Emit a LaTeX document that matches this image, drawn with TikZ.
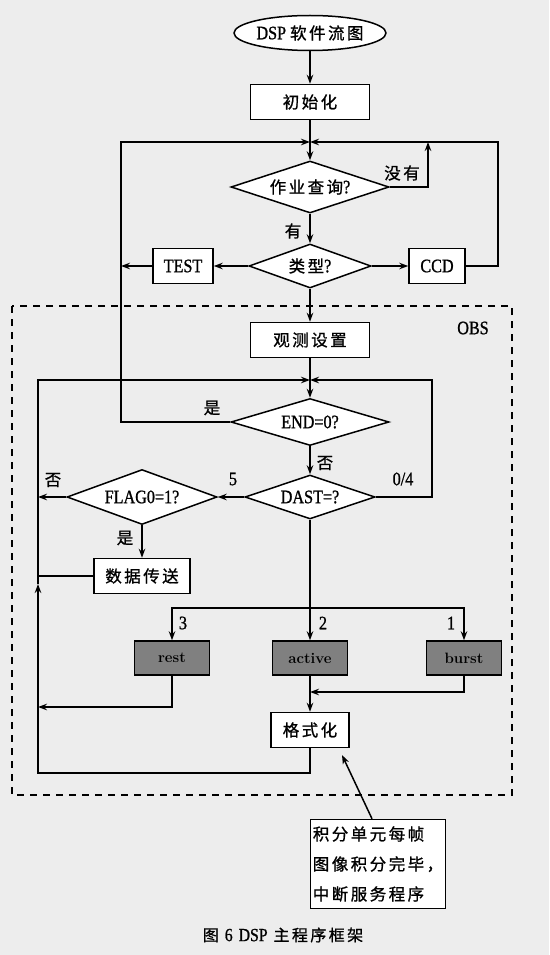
\documentclass[tikz,border=0pt]{standalone}
\usepackage{fontspec}
\newfontfamily\zh[LetterSpace=15, FakeBold=1]{Noto Sans CJK SC}
\newfontfamily\tm[FakeStretch=0.85, FakeBold=1]{Liberation Serif}
\usetikzlibrary{arrows.meta,shapes.geometric,positioning}
\newcommand{\cn}[2][16.5]{{\fontsize{#1}{#1}\selectfont\zh #2}}

\tikzset{
    blk/.style={draw, fill=white, inner sep=0pt, font=\fontsize{19}{24}\selectfont\tm},
    proc/.style={blk, rectangle, minimum width=#1, minimum height=35},
    proc/.default=119,
    cond/.style={blk, diamond, aspect=3},
    gbox/.style={blk, fill=black!50, minimum width=75, minimum height=34, font=\fontsize{15}{18}\selectfont\bfseries},
    lbl/.style={font=\fontsize{19}{24}\selectfont\tm},
}

\begin{document}
\begin{tikzpicture}[x=1pt, y=-1pt, line width=1.5pt, >={Stealth[length=9pt,width=6.5pt]}]
    \useasboundingbox[fill=black!7] (0,0) rectangle (549,955);

    % OBS frame
    \draw[line width=1.4pt, dash pattern=on 7pt off 6pt] (12,306) rectangle (512,795);
    \node[lbl] (obs) at (473,328) {OBS};

    % Upper part
    \node[blk, ellipse, minimum width=152, minimum height=35] (start) at (310,33) {DSP\hspace{4pt}\cn{软件流图}};
    \node[proc] (init) at (310,102) {\cn{初始化}};
    \node[cond, minimum width=158, minimum height=52] (query) at (310,187) {\cn{作业查询}?};
    \node[cond, minimum width=122, minimum height=44] (kind) at (310,266) {\cn{类型}?};
    \node[proc=60] (test) at (183,266) {TEST};
    \node[proc=56] (ccd) at (437,266) {CCD};
    \coordinate (m1) at (310,142);
    \coordinate (lt) at (121,142);
    \coordinate (rt) at (498,142);
    \coordinate (nq) at (428,142);

    \draw[->] (start) -- (init);
    \draw[->] (init) -- (query);
    \draw[->] (query.east) -| (nq);
    \node[lbl] (none) at (402,173) {\cn{没有}};
    \draw[->] (query) -- (kind);
    \node[lbl] (have) at (293,231) {\cn{有}};
    \draw[->] (kind) -- (test);
    \draw[->] (kind) -- (ccd);
    \draw[->] (test.west) -- (test.west -| lt);
    \draw[->] (ccd.east) -| (rt) -- (m1);

    % OBS part
    \node[proc] (setup) at (310,340) {\cn{观测设置}};
    \node[cond, minimum width=158, minimum height=47] (endq) at (310,422) {END=0?};
    \node[cond, minimum width=130, minimum height=44] (dast) at (310,497) {DAST=?};
    \node[cond, minimum width=150, minimum height=55] (flag) at (142,497) {FLAG0=1?};
    \node[proc=96] (send) at (142,576) {\cn{数据传送}};
    \foreach \n/\x in {rest/172, active/310, burst/464} {
        \node[gbox] (\n) at (\x,658) {\n};
    }
    \node[proc=78] (format) at (310,730) {\cn{格式化}};
    \coordinate (m2) at (310,380);
    \coordinate (lb) at (38,380);
    \coordinate (rb) at (432,380);
    \coordinate (sp) at (310,608);
    \coordinate (m3) at (310,692);
    \coordinate (lr) at (38,707);
    \coordinate (fb) at (310,773);
    \coordinate (lbot) at (38,773);
    \coordinate (lup) at (38,584);

    \draw[->] (kind) -- (setup);
    \draw[->] (setup) -- (endq);
    \draw[->] (endq.west) -| (lt) -- (m1);
    \node[lbl] (yes1) at (212,408) {\cn{是}};
    \draw[->] (endq) -- (dast);
    \node[lbl] (no1) at (325,463) {\cn{否}};
    \draw[->] (dast.east) -| (rb) -- (m2);
    \node[lbl] (k04) at (403,479) {0/4};
    \draw[->] (dast) -- (flag);
    \node[lbl] (k5) at (233,479) {5};
    \draw[->] (flag.west) -- (flag.west -| lb);
    \node[lbl] (no2) at (53,480) {\cn{否}};
    \draw[->] (flag) -- (send);
    \node[lbl] (yes2) at (125,538) {\cn{是}};
    \draw (send.west) -- (send.west -| lb);

    % Branches
    \draw[->] (dast) -- (active);
    \draw[->] (sp) -| (rest.north);
    \draw[->] (sp) -| (burst.north);
    \node[lbl] (k3) at (183,623) {3};
    \node[lbl] (k2) at (323,623) {2};
    \node[lbl] (k1) at (451,623) {1};
    \draw[->] (rest.south) |- (lr);
    \draw[->] (burst.south) |- (m3);
    \draw[->] (active) -- (format);
    \draw[->] (format) -- (fb) -- (lbot) -- (lup);
    \draw[->] (lup) -- (lb) -- (m2);

    % Interrupt note
    \node[blk, align=left, minimum width=135, minimum height=89, font=\fontsize{16.5}{30}\selectfont\zh] (note) at (378,864) {积分单元每帧\\图像积分完毕，\\中断服务程序};
    \coordinate (tip) at (342,755);
    \draw[->] ([xshift=-6pt]note.north) -- (tip);

    \node[font=\fontsize{18.5}{22}\selectfont\tm] (cap) at (283,935) {\cn[16]{图}\hspace{6pt}6\hspace{6pt}DSP\hspace{6pt}\cn[16]{主程序框架}};
\end{tikzpicture}
\end{document}
